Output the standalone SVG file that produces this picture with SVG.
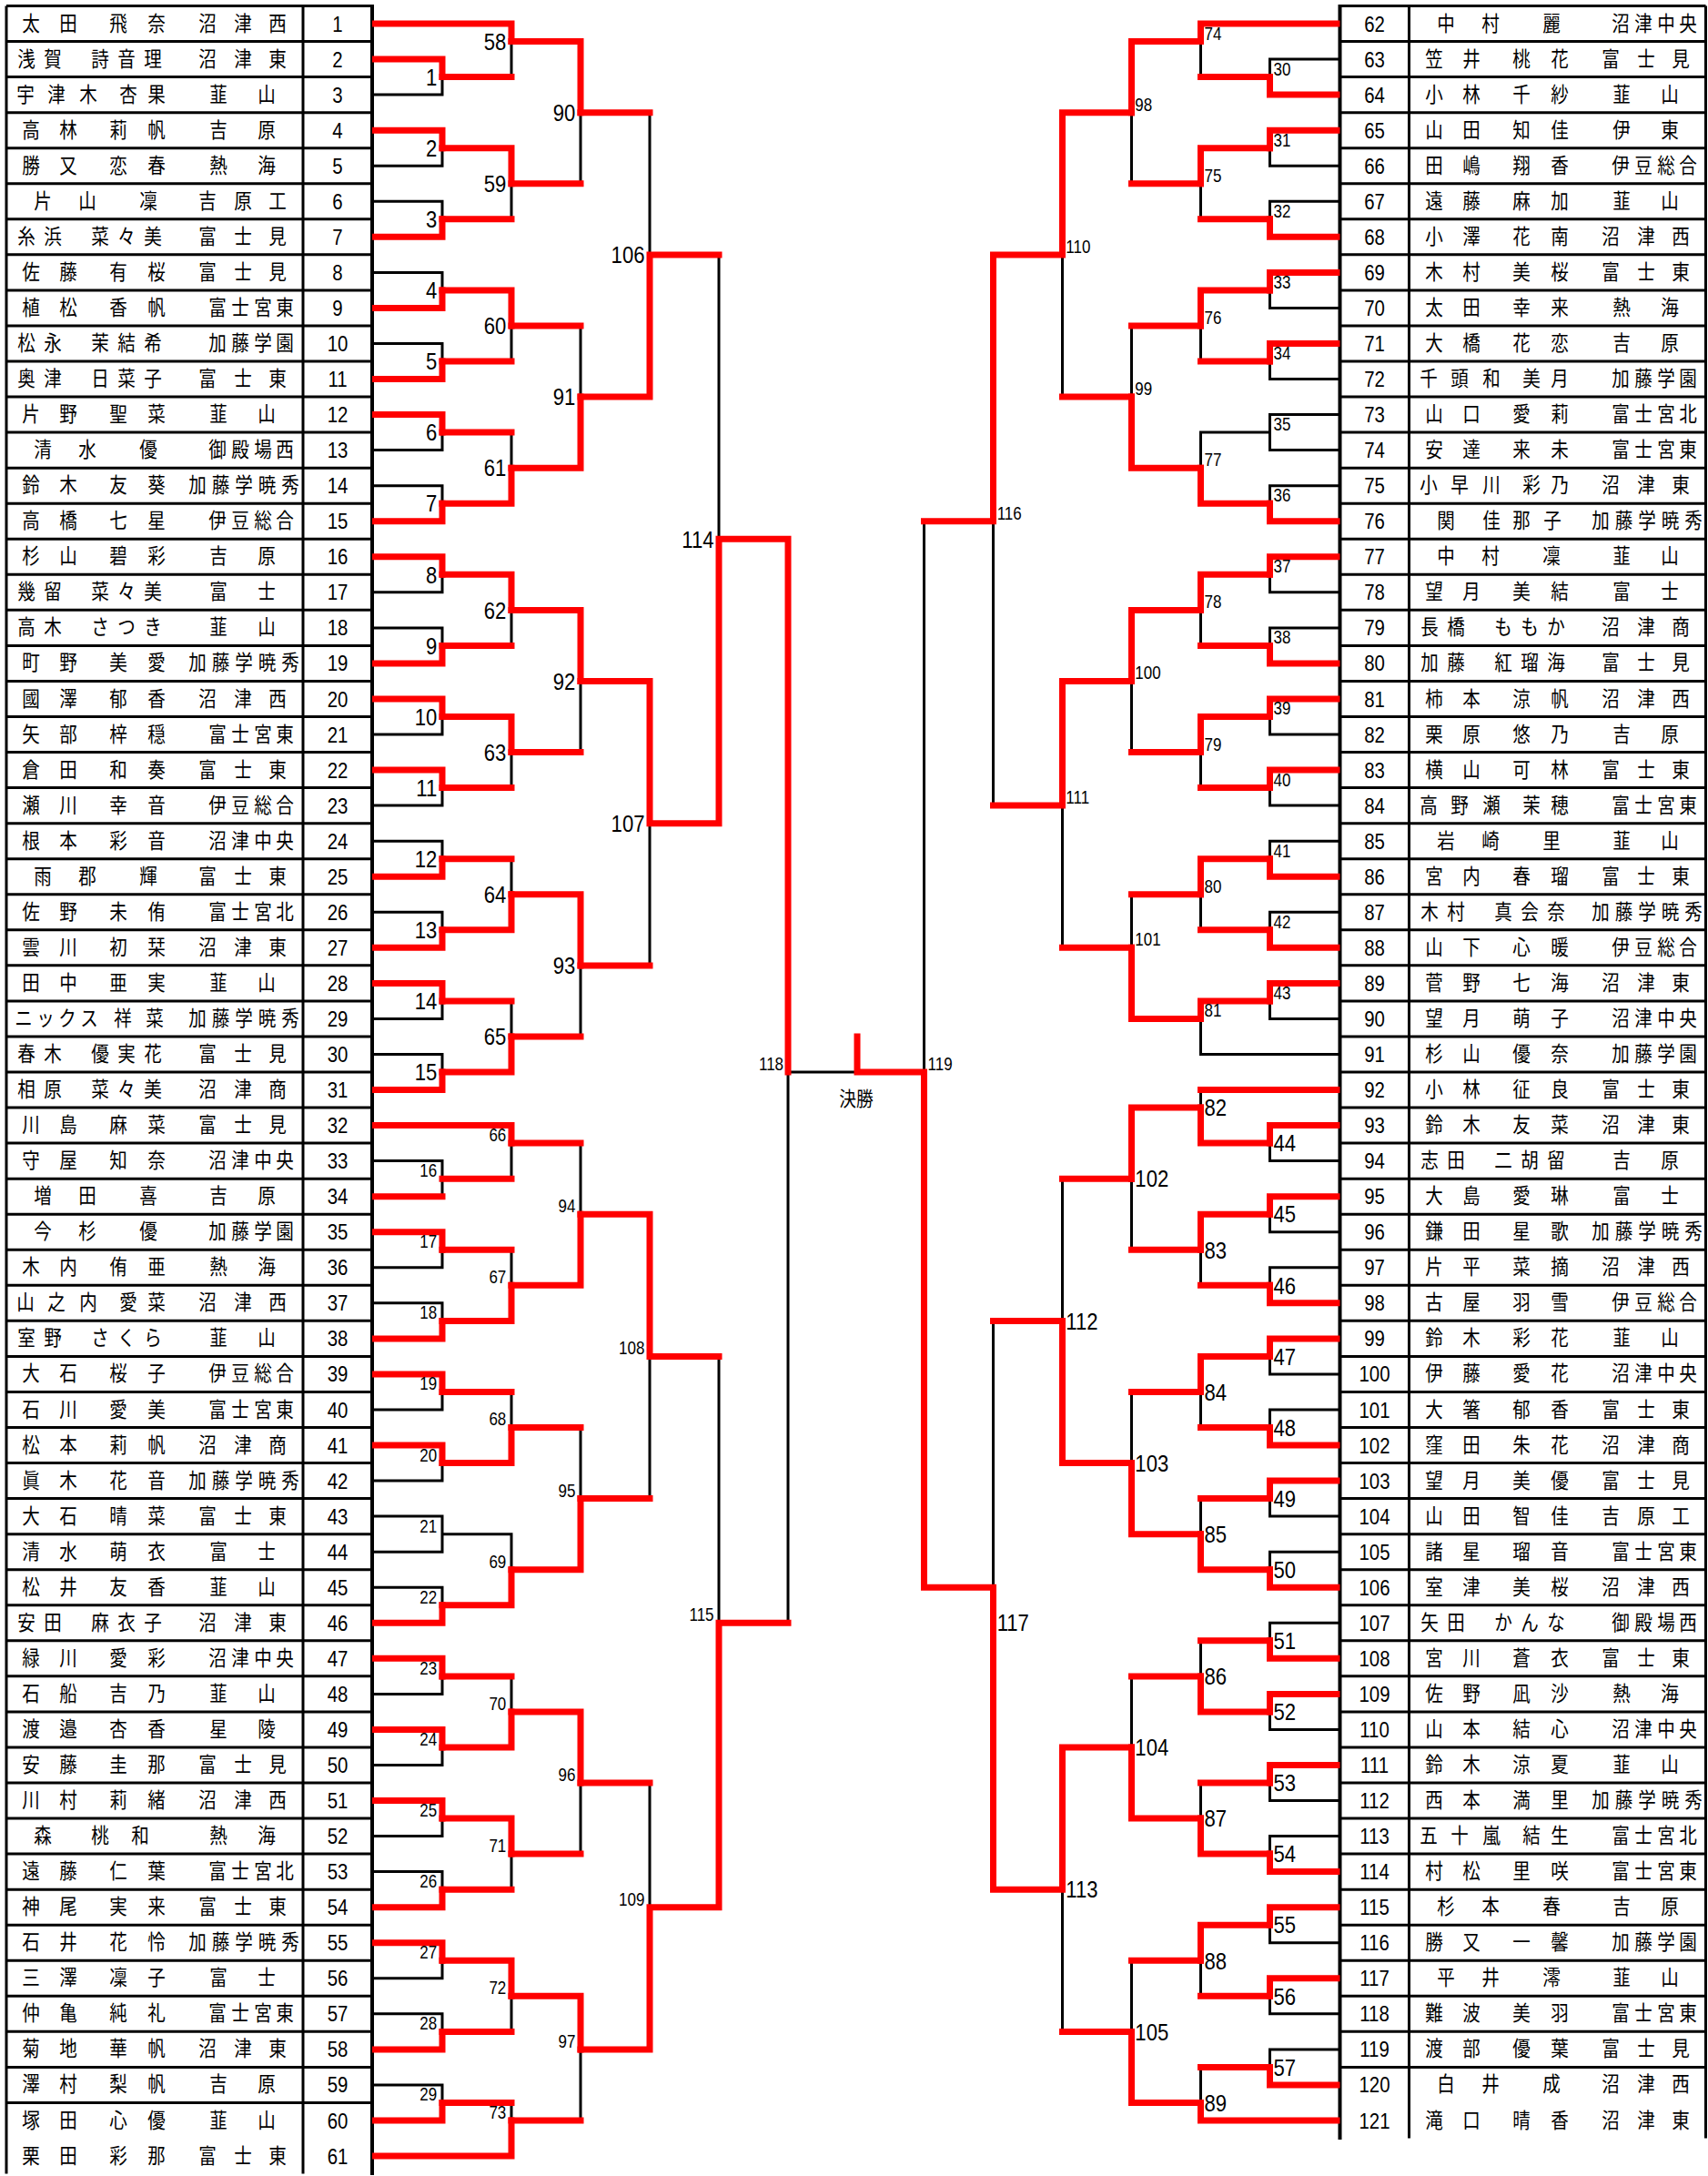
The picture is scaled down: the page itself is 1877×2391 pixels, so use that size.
<svg xmlns="http://www.w3.org/2000/svg" width="1877" height="2391" viewBox="0 0 1877 2391">
<style>
.tb{fill:none;stroke:#000;stroke-width:3}
.bk{fill:none;stroke:#000;stroke-width:3}
.rd{fill:none;stroke:#f00;stroke-width:7;stroke-linecap:square;stroke-linejoin:miter}
.n{font-family:"Noto Sans CJK JP","Noto Sans CJK SC",sans-serif;font-size:23px;text-anchor:middle;fill:#000}
.d{font-family:"Liberation Sans",Arial,sans-serif;font-size:24px;text-anchor:middle;fill:#000}
.lb{font-family:"Liberation Sans",Arial,sans-serif;font-size:26px;text-anchor:end;fill:#000}
.ls{font-family:"Liberation Sans",Arial,sans-serif;font-size:20px;text-anchor:end;fill:#000}
.rb{font-family:"Liberation Sans",Arial,sans-serif;font-size:26px;text-anchor:start;fill:#000}
.rs{font-family:"Liberation Sans",Arial,sans-serif;font-size:20px;text-anchor:start;fill:#000}
.fin{font-family:"Noto Sans CJK JP","Noto Sans CJK SC",sans-serif;font-size:22px;text-anchor:middle;fill:#000}
</style>
<rect width="1877" height="2391" fill="#fff"/>
<g id="table">
<path class="tb" d="M7 6.5h402m-402 39.05h402m-402 39.05h402m-402 39.05h402m-402 39.05h402m-402 39.05h402m-402 39.05h402m-402 39.05h402m-402 39.05h402m-402 39.05h402m-402 39.05h402m-402 39.05h402m-402 39.05h402m-402 39.05h402m-402 39.05h402m-402 39.05h402m-402 39.05h402m-402 39.05h402m-402 39.05h402m-402 39.05h402m-402 39.05h402m-402 39.05h402m-402 39.05h402m-402 39.05h402m-402 39.05h402m-402 39.05h402m-402 39.05h402m-402 39.05h402m-402 39.05h402m-402 39.05h402m-402 39.05h402m-402 39.05h402m-402 39.05h402m-402 39.05h402m-402 39.05h402m-402 39.05h402m-402 39.05h402m-402 39.05h402m-402 39.05h402m-402 39.05h402m-402 39.05h402m-402 39.05h402m-402 39.05h402m-402 39.05h402m-402 39.05h402m-402 39.05h402m-402 39.05h402m-402 39.05h402m-402 39.05h402m-402 39.05h402m-402 39.05h402m-402 39.05h402m-402 39.05h402m-402 39.05h402m-402 39.05h402m-402 39.05h402m-402 39.05h402m-402 39.05h402m-402 39.05h402m-402 39.05h402M7 6.5V2388.6M333 6.5V2388.6"/>
<path class="tb" d="M1472.5 6.5h402m-402 39.05h402m-402 39.05h402m-402 39.05h402m-402 39.05h402m-402 39.05h402m-402 39.05h402m-402 39.05h402m-402 39.05h402m-402 39.05h402m-402 39.05h402m-402 39.05h402m-402 39.05h402m-402 39.05h402m-402 39.05h402m-402 39.05h402m-402 39.05h402m-402 39.05h402m-402 39.05h402m-402 39.05h402m-402 39.05h402m-402 39.05h402m-402 39.05h402m-402 39.05h402m-402 39.05h402m-402 39.05h402m-402 39.05h402m-402 39.05h402m-402 39.05h402m-402 39.05h402m-402 39.05h402m-402 39.05h402m-402 39.05h402m-402 39.05h402m-402 39.05h402m-402 39.05h402m-402 39.05h402m-402 39.05h402m-402 39.05h402m-402 39.05h402m-402 39.05h402m-402 39.05h402m-402 39.05h402m-402 39.05h402m-402 39.05h402m-402 39.05h402m-402 39.05h402m-402 39.05h402m-402 39.05h402m-402 39.05h402m-402 39.05h402m-402 39.05h402m-402 39.05h402m-402 39.05h402m-402 39.05h402m-402 39.05h402m-402 39.05h402m-402 39.05h402m-402 39.05h402M1874.5 6.5V2349.5M1548.5 6.5V2349.5"/>
<path fill="none" stroke="#000" stroke-width="4" d="M409 5V2390M1472.5 5V2351"/>
</g>
<g id="connectors">
<path class="bk" d="M409 65.1H486V104.1H409M409 143.2H486V182.2H409M409 221.3H486V260.3H409M409 299.4H486V338.4H409M409 377.5H486V416.5H409M409 455.6H486V494.6H409M409 533.7H486V572.7H409M409 611.8H486V650.8H409M409 689.9H486V728.9H409M409 768H486V807H409M409 846.1H486V885.1H409M409 924.2H486V963.2H409M409 1002.3H486V1041.3H409M409 1080.4H486V1119.4H409M409 1158.5H486V1197.5H409M409 1275.6H486V1314.7H409M409 1353.7H486V1392.8H409M409 1431.8H486V1470.9H409M409 1509.9H486V1549H409M409 1588H486V1627.1H409M409 1666.1H486V1705.2H409M409 1744.2H486V1783.3H409M409 1822.3H486V1861.4H409M409 1900.4H486V1939.5H409M409 1978.5H486V2017.6H409M409 2056.6H486V2095.7H409M409 2134.7H486V2173.8H409M409 2212.8H486V2251.9H409M409 2290.9H486V2330H409"/>
<path class="bk" d="M409 26H562V84.6H486M486 162.7H562V240.8H486M486 318.9H562V397H486M486 475.1H562V553.2H486M486 631.3H562V709.4H486M486 787.5H562V865.6H486M486 943.7H562V1021.8H486M486 1099.9H562V1178H486M409 1236.6H562V1295.2H486M486 1373.3H562V1451.4H486M486 1529.5H562V1607.6H486M486 1685.7H562V1763.8H486M486 1841.9H562V1920H486M486 1998.1H562V2076.2H486M486 2154.3H562V2232.4H486M486 2310.5H562V2369H409"/>
<path class="bk" d="M562 45.6H638V201.8H562M562 358H638V514.2H562M562 670.4H638V826.6H562M562 982.8H638V1139H562M562 1256.1H638V1412.3H562M562 1568.5H638V1724.7H562M562 1880.9H638V2037.1H562M562 2193.3H638V2330H562"/>
<path class="bk" d="M638 123.7H714V436.1H638M638 748.5H714V1060.9H638M638 1334.2H714V1646.6H638M638 1959H714V2251.9H638M714 279.9H790V904.7H714M714 1490.4H790V2095.7H714M790 592.3H866V1783.3H790M866 1178H942"/>
<path class="bk" d="M1472.5 65.1H1395.5V104.1H1472.5M1472.5 143.2H1395.5V182.2H1472.5M1472.5 221.3H1395.5V260.3H1472.5M1472.5 299.4H1395.5V338.4H1472.5M1472.5 377.5H1395.5V416.5H1472.5M1472.5 455.6H1395.5V494.6H1472.5M1472.5 533.7H1395.5V572.7H1472.5M1472.5 611.8H1395.5V650.8H1472.5M1472.5 689.9H1395.5V728.9H1472.5M1472.5 768H1395.5V807H1472.5M1472.5 846.1H1395.5V885.1H1472.5M1472.5 924.2H1395.5V963.2H1472.5M1472.5 1002.3H1395.5V1041.3H1472.5M1472.5 1080.4H1395.5V1119.4H1472.5M1472.5 1236.6H1395.5V1275.6H1472.5M1472.5 1314.7H1395.5V1353.7H1472.5M1472.5 1392.8H1395.5V1431.8H1472.5M1472.5 1470.9H1395.5V1509.9H1472.5M1472.5 1549H1395.5V1588H1472.5M1472.5 1627.1H1395.5V1666.1H1472.5M1472.5 1705.2H1395.5V1744.2H1472.5M1472.5 1783.3H1395.5V1822.3H1472.5M1472.5 1861.4H1395.5V1900.4H1472.5M1472.5 1939.5H1395.5V1978.5H1472.5M1472.5 2017.6H1395.5V2056.6H1472.5M1472.5 2095.7H1395.5V2134.7H1472.5M1472.5 2173.8H1395.5V2212.8H1472.5M1472.5 2251.9H1395.5V2290.9H1472.5"/>
<path class="bk" d="M1472.5 26H1319.5V84.6H1395.5M1395.5 162.7H1319.5V240.8H1395.5M1395.5 318.9H1319.5V397H1395.5M1395.5 475.1H1319.5V553.2H1395.5M1395.5 631.3H1319.5V709.4H1395.5M1395.5 787.5H1319.5V865.6H1395.5M1395.5 943.7H1319.5V1021.8H1395.5M1395.5 1099.9H1319.5V1158.5H1472.5M1472.5 1197.5H1319.5V1256.1H1395.5M1395.5 1334.2H1319.5V1412.3H1395.5M1395.5 1490.4H1319.5V1568.5H1395.5M1395.5 1646.6H1319.5V1724.7H1395.5M1395.5 1802.8H1319.5V1880.9H1395.5M1395.5 1959H1319.5V2037.1H1395.5M1395.5 2115.2H1319.5V2193.3H1395.5M1395.5 2271.4H1319.5V2330H1472.5"/>
<path class="bk" d="M1319.5 45.6H1243.5V201.8H1319.5M1319.5 358H1243.5V514.2H1319.5M1319.5 670.4H1243.5V826.6H1319.5M1319.5 982.8H1243.5V1119.4H1319.5M1319.5 1217.1H1243.5V1373.3H1319.5M1319.5 1529.5H1243.5V1685.7H1319.5M1319.5 1841.9H1243.5V1998.1H1319.5M1319.5 2154.3H1243.5V2310.5H1319.5"/>
<path class="bk" d="M1243.5 123.7H1167.5V436.1H1243.5M1243.5 748.5H1167.5V1041.3H1243.5M1243.5 1295.2H1167.5V1607.6H1243.5M1243.5 1920H1167.5V2232.4H1243.5M1167.5 279.9H1091.5V885.1H1167.5M1167.5 1451.4H1091.5V2076.2H1167.5M1091.5 572.7H1015.5V1744.2H1091.5"/>
<path class="rd" d="M412.5 65.1H486V84.6M412.5 143.2H486V162.7M412.5 260.3H486V240.8M412.5 338.4H486V318.9M412.5 416.5H486V397M412.5 455.6H486V475.1M412.5 572.7H486V553.2M412.5 611.8H486V631.3M412.5 728.9H486V709.4M412.5 768H486V787.5M412.5 846.1H486V865.6M412.5 963.2H486V943.7M412.5 1041.3H486V1021.8M412.5 1080.4H486V1099.9M412.5 1197.5H486V1178M412.5 1314.7H486M412.5 1353.7H486V1373.3M412.5 1470.9H486V1451.4M412.5 1509.9H486V1529.5M412.5 1588H486V1607.6M412.5 1783.3H486V1763.8M412.5 1822.3H486V1841.9M412.5 1900.4H486V1920M412.5 1978.5H486V1998.1M412.5 2095.7H486V2076.2M412.5 2134.7H486V2154.3M412.5 2251.9H486V2232.4M412.5 2330H486V2310.5"/>
<path class="rd" d="M412.5 26H562V45.6M486 84.6H562M486 162.7H562V201.8M486 240.8H562M486 318.9H562V358M486 397H562M486 553.2H562V514.2M486 475.1H562M486 631.3H562V670.4M486 709.4H562M486 787.5H562V826.6M486 865.6H562M486 1021.8H562V982.8M486 943.7H562M486 1178H562V1139M486 1099.9H562M412.5 1236.6H562V1256.1M486 1295.2H562M486 1451.4H562V1412.3M486 1373.3H562M486 1607.6H562V1568.5M486 1529.5H562M486 1763.8H562V1724.7M486 1920H562V1880.9M486 1841.9H562M486 1998.1H562V2037.1M486 2076.2H562M486 2154.3H562V2193.3M486 2232.4H562M412.5 2369H562V2330M486 2310.5H562"/>
<path class="rd" d="M562 45.6H638V123.7M562 201.8H638M562 514.2H638V436.1M562 358H638M562 670.4H638V748.5M562 826.6H638M562 982.8H638V1060.9M562 1139H638M562 1412.3H638V1334.2M562 1256.1H638M562 1724.7H638V1646.6M562 1568.5H638M562 1880.9H638V1959M562 2037.1H638M562 2193.3H638V2251.9M562 2330H638"/>
<path class="rd" d="M638 436.1H714V279.9M638 123.7H714M638 748.5H714V904.7M638 1060.9H714M638 1334.2H714V1490.4M638 1646.6H714M638 2251.9H714V2095.7M638 1959H714M714 904.7H790V592.3M714 279.9H790M714 2095.7H790V1783.3M714 1490.4H790M790 592.3H866V1178M790 1783.3H866"/>
<path class="rd" d="M1469 104.1H1395.5V84.6M1469 143.2H1395.5V162.7M1469 260.3H1395.5V240.8M1469 299.4H1395.5V318.9M1469 377.5H1395.5V397M1469 572.7H1395.5V553.2M1469 611.8H1395.5V631.3M1469 728.9H1395.5V709.4M1469 768H1395.5V787.5M1469 846.1H1395.5V865.6M1469 963.2H1395.5V943.7M1469 1041.3H1395.5V1021.8M1469 1080.4H1395.5V1099.9M1469 1236.6H1395.5V1256.1M1469 1314.7H1395.5V1334.2M1469 1431.8H1395.5V1412.3M1469 1470.9H1395.5V1490.4M1469 1588H1395.5V1568.5M1469 1627.1H1395.5V1646.6M1469 1744.2H1395.5V1724.7M1469 1822.3H1395.5V1802.8M1469 1861.4H1395.5V1880.9M1469 1939.5H1395.5V1959M1469 2056.6H1395.5V2037.1M1469 2095.7H1395.5V2115.2M1469 2173.8H1395.5V2193.3M1469 2290.9H1395.5V2271.4"/>
<path class="rd" d="M1469 26H1319.5V45.6M1395.5 84.6H1319.5M1395.5 162.7H1319.5V201.8M1395.5 240.8H1319.5M1395.5 318.9H1319.5V358M1395.5 397H1319.5M1395.5 553.2H1319.5V514.2M1395.5 631.3H1319.5V670.4M1395.5 709.4H1319.5M1395.5 787.5H1319.5V826.6M1395.5 865.6H1319.5M1395.5 943.7H1319.5V982.8M1395.5 1021.8H1319.5M1395.5 1099.9H1319.5V1119.4M1395.5 1256.1H1319.5V1217.1M1469 1197.5H1319.5M1395.5 1334.2H1319.5V1373.3M1395.5 1412.3H1319.5M1395.5 1490.4H1319.5V1529.5M1395.5 1568.5H1319.5M1395.5 1724.7H1319.5V1685.7M1395.5 1646.6H1319.5M1395.5 1880.9H1319.5V1841.9M1395.5 1802.8H1319.5M1395.5 2037.1H1319.5V1998.1M1395.5 1959H1319.5M1395.5 2115.2H1319.5V2154.3M1395.5 2193.3H1319.5M1469 2330H1319.5V2310.5M1395.5 2271.4H1319.5"/>
<path class="rd" d="M1319.5 45.6H1243.5V123.7M1319.5 201.8H1243.5M1319.5 514.2H1243.5V436.1M1319.5 358H1243.5M1319.5 670.4H1243.5V748.5M1319.5 826.6H1243.5M1319.5 1119.4H1243.5V1041.3M1319.5 982.8H1243.5M1319.5 1217.1H1243.5V1295.2M1319.5 1373.3H1243.5M1319.5 1685.7H1243.5V1607.6M1319.5 1529.5H1243.5M1319.5 1998.1H1243.5V1920M1319.5 1841.9H1243.5M1319.5 2310.5H1243.5V2232.4M1319.5 2154.3H1243.5"/>
<path class="rd" d="M1243.5 123.7H1167.5V279.9M1243.5 436.1H1167.5M1243.5 748.5H1167.5V885.1M1243.5 1041.3H1167.5M1243.5 1607.6H1167.5V1451.4M1243.5 1295.2H1167.5M1243.5 1920H1167.5V2076.2M1243.5 2232.4H1167.5M1167.5 279.9H1091.5V572.7M1167.5 885.1H1091.5M1167.5 2076.2H1091.5V1744.2M1167.5 1451.4H1091.5M1091.5 1744.2H1015.5V1178H942V1139M1091.5 572.7H1015.5"/>
</g>
<g transform="scale(.85 1)">
<g id="labels">
<text class="lb" x="565" y="93.9">1</text><text class="lb" x="565" y="172">2</text><text class="lb" x="565" y="250.1">3</text><text class="lb" x="565" y="328.2">4</text><text class="lb" x="565" y="406.3">5</text><text class="lb" x="565" y="484.4">6</text><text class="lb" x="565" y="562.5">7</text><text class="lb" x="565" y="640.6">8</text><text class="lb" x="565" y="718.7">9</text><text class="lb" x="565" y="796.8">10</text><text class="lb" x="565" y="874.9">11</text><text class="lb" x="565" y="953">12</text><text class="lb" x="565" y="1031.1">13</text><text class="lb" x="565" y="1109.2">14</text><text class="lb" x="565" y="1187.3">15</text>
<text class="lb" x="654.5" y="54.9">58</text><text class="lb" x="654.5" y="211.1">59</text><text class="lb" x="654.5" y="367.3">60</text><text class="lb" x="654.5" y="523.5">61</text><text class="lb" x="654.5" y="679.7">62</text><text class="lb" x="654.5" y="835.9">63</text><text class="lb" x="654.5" y="992.1">64</text><text class="lb" x="654.5" y="1148.3">65</text>
<text class="lb" x="744" y="133">90</text><text class="lb" x="744" y="445.4">91</text><text class="lb" x="744" y="757.8">92</text><text class="lb" x="744" y="1070.2">93</text>
<text class="lb" x="833.5" y="289.2">106</text><text class="lb" x="833.5" y="914">107</text><text class="lb" x="923" y="601.6">114</text>
<g transform="translate(0 -2)">
<text class="ls" x="565" y="1295.2">16</text><text class="ls" x="565" y="1373.3">17</text><text class="ls" x="565" y="1451.4">18</text><text class="ls" x="565" y="1529.5">19</text><text class="ls" x="565" y="1607.6">20</text><text class="ls" x="565" y="1685.7">21</text><text class="ls" x="565" y="1763.8">22</text><text class="ls" x="565" y="1841.9">23</text><text class="ls" x="565" y="1920">24</text><text class="ls" x="565" y="1998.1">25</text><text class="ls" x="565" y="2076.2">26</text><text class="ls" x="565" y="2154.3">27</text><text class="ls" x="565" y="2232.4">28</text><text class="ls" x="565" y="2310.5">29</text>
<text class="ls" x="654.5" y="1256.1">66</text><text class="ls" x="654.5" y="1412.3">67</text><text class="ls" x="654.5" y="1568.5">68</text><text class="ls" x="654.5" y="1724.7">69</text><text class="ls" x="654.5" y="1880.9">70</text><text class="ls" x="654.5" y="2037.1">71</text><text class="ls" x="654.5" y="2193.3">72</text><text class="ls" x="654.5" y="2330">73</text>
<text class="ls" x="744" y="1334.2">94</text><text class="ls" x="744" y="1646.6">95</text><text class="ls" x="744" y="1959">96</text><text class="ls" x="744" y="2251.9">97</text>
<text class="ls" x="833.5" y="1490.4">108</text><text class="ls" x="833.5" y="2095.7">109</text><text class="ls" x="923" y="1783.3">115</text><text class="ls" x="1013" y="1178">118</text>
<text class="rs" x="1646.5" y="84.6">30</text><text class="rs" x="1646.5" y="162.7">31</text><text class="rs" x="1646.5" y="240.8">32</text><text class="rs" x="1646.5" y="318.9">33</text><text class="rs" x="1646.5" y="397">34</text><text class="rs" x="1646.5" y="475.1">35</text><text class="rs" x="1646.5" y="553.2">36</text><text class="rs" x="1646.5" y="631.3">37</text><text class="rs" x="1646.5" y="709.4">38</text><text class="rs" x="1646.5" y="787.5">39</text><text class="rs" x="1646.5" y="865.6">40</text><text class="rs" x="1646.5" y="943.7">41</text><text class="rs" x="1646.5" y="1021.8">42</text><text class="rs" x="1646.5" y="1099.9">43</text>
<text class="rs" x="1557" y="45.6">74</text><text class="rs" x="1557" y="201.8">75</text><text class="rs" x="1557" y="358">76</text><text class="rs" x="1557" y="514.2">77</text><text class="rs" x="1557" y="670.4">78</text><text class="rs" x="1557" y="826.6">79</text><text class="rs" x="1557" y="982.8">80</text><text class="rs" x="1557" y="1119.4">81</text>
<text class="rs" x="1467.5" y="123.7">98</text><text class="rs" x="1467.5" y="436.1">99</text><text class="rs" x="1467.5" y="748.5">100</text><text class="rs" x="1467.5" y="1041.3">101</text>
<text class="rs" x="1378" y="279.9">110</text><text class="rs" x="1378" y="885.1">111</text><text class="rs" x="1289" y="572.7">116</text><text class="rs" x="1199.5" y="1178">119</text>
</g>
<text class="rb" x="1646.5" y="1265.4">44</text><text class="rb" x="1646.5" y="1343.5">45</text><text class="rb" x="1646.5" y="1421.6">46</text><text class="rb" x="1646.5" y="1499.7">47</text><text class="rb" x="1646.5" y="1577.8">48</text><text class="rb" x="1646.5" y="1655.9">49</text><text class="rb" x="1646.5" y="1734">50</text><text class="rb" x="1646.5" y="1812.1">51</text><text class="rb" x="1646.5" y="1890.2">52</text><text class="rb" x="1646.5" y="1968.3">53</text><text class="rb" x="1646.5" y="2046.4">54</text><text class="rb" x="1646.5" y="2124.5">55</text><text class="rb" x="1646.5" y="2202.6">56</text><text class="rb" x="1646.5" y="2280.7">57</text>
<text class="rb" x="1557" y="1226.4">82</text><text class="rb" x="1557" y="1382.6">83</text><text class="rb" x="1557" y="1538.8">84</text><text class="rb" x="1557" y="1695">85</text><text class="rb" x="1557" y="1851.2">86</text><text class="rb" x="1557" y="2007.4">87</text><text class="rb" x="1557" y="2163.6">88</text><text class="rb" x="1557" y="2319.8">89</text>
<text class="rb" x="1467.5" y="1304.5">102</text><text class="rb" x="1467.5" y="1616.9">103</text><text class="rb" x="1467.5" y="1929.3">104</text><text class="rb" x="1467.5" y="2241.7">105</text>
<text class="rb" x="1378" y="1460.7">112</text><text class="rb" x="1378" y="2085.5">113</text><text class="rb" x="1289" y="1792.5">117</text>
<text class="fin" x="1107" y="1215.5">決勝</text>
</g>
<g id="players">
<g id="p1" transform="translate(0 33.5)"><text class="n" x="40 88.2 120 152.9 202.4">太田　飛奈</text><text class="n" x="268.2 314.1 358.8">沼津西</text><text class="d" x="436.5" y="1">1</text></g>
<g id="p2" transform="translate(0 72.6)"><text class="n" x="34.1 68.2 99 129.4 163.5 197.6">浅賀　詩音理</text><text class="n" x="268.2 314.1 358.8">沼津東</text><text class="d" x="436.5" y="1">2</text></g>
<g id="p3" transform="translate(0 111.6)"><text class="n" x="32.9 72.9 114.1 140 165.9 202.4">宇津木　杏果</text><text class="n" x="282.4 344.7">韮山</text><text class="d" x="436.5" y="1">3</text></g>
<g id="p4" transform="translate(0 150.7)"><text class="n" x="40 88.2 120 152.9 202.4">高林　莉帆</text><text class="n" x="282.4 344.7">吉原</text><text class="d" x="436.5" y="1">4</text></g>
<g id="p5" transform="translate(0 189.7)"><text class="n" x="40 88.2 120 152.9 202.4">勝又　恋春</text><text class="n" x="282.4 344.7">熱海</text><text class="d" x="436.5" y="1">5</text></g>
<g id="p6" transform="translate(0 228.8)"><text class="n" x="55.3 112.9 150 191.8">片山　凜</text><text class="n" x="268.2 314.1 358.8">吉原工</text><text class="d" x="436.5" y="1">6</text></g>
<g id="p7" transform="translate(0 267.8)"><text class="n" x="34.1 68.2 99 129.4 163.5 197.6">糸浜　菜々美</text><text class="n" x="268.2 314.1 358.8">富士見</text><text class="d" x="436.5" y="1">7</text></g>
<g id="p8" transform="translate(0 306.9)"><text class="n" x="40 88.2 120 152.9 202.4">佐藤　有桜</text><text class="n" x="268.2 314.1 358.8">富士見</text><text class="d" x="436.5" y="1">8</text></g>
<g id="p9" transform="translate(0 345.9)"><text class="n" x="40 88.2 120 152.9 202.4">植松　香帆</text><text class="n" x="281.2 310.6 340 368.2">富士宮東</text><text class="d" x="436.5" y="1">9</text></g>
<g id="p10" transform="translate(0 385)"><text class="n" x="34.1 68.2 99 129.4 163.5 197.6">松永　茉結希</text><text class="n" x="281.2 310.6 340 368.2">加藤学園</text><text class="d" x="436.5" y="1">10</text></g>
<g id="p11" transform="translate(0 424)"><text class="n" x="34.1 68.2 99 129.4 163.5 197.6">奥津　日菜子</text><text class="n" x="268.2 314.1 358.8">富士東</text><text class="d" x="436.5" y="1">11</text></g>
<g id="p12" transform="translate(0 463.1)"><text class="n" x="40 88.2 120 152.9 202.4">片野　聖菜</text><text class="n" x="282.4 344.7">韮山</text><text class="d" x="436.5" y="1">12</text></g>
<g id="p13" transform="translate(0 502.1)"><text class="n" x="55.3 112.9 150 191.8">清水　優</text><text class="n" x="281.2 310.6 340 368.2">御殿場西</text><text class="d" x="436.5" y="1">13</text></g>
<g id="p14" transform="translate(0 541.2)"><text class="n" x="40 88.2 120 152.9 202.4">鈴木　友葵</text><text class="n" x="255.3 285.3 315.3 345.3 375.3">加藤学暁秀</text><text class="d" x="436.5" y="1">14</text></g>
<g id="p15" transform="translate(0 580.2)"><text class="n" x="40 88.2 120 152.9 202.4">高橋　七星</text><text class="n" x="281.2 310.6 340 368.2">伊豆総合</text><text class="d" x="436.5" y="1">15</text></g>
<g id="p16" transform="translate(0 619.3)"><text class="n" x="40 88.2 120 152.9 202.4">杉山　碧彩</text><text class="n" x="282.4 344.7">吉原</text><text class="d" x="436.5" y="1">16</text></g>
<g id="p17" transform="translate(0 658.3)"><text class="n" x="34.1 68.2 99 129.4 163.5 197.6">幾留　菜々美</text><text class="n" x="282.4 344.7">富士</text><text class="d" x="436.5" y="1">17</text></g>
<g id="p18" transform="translate(0 697.4)"><text class="n" x="34.1 68.2 99 129.4 163.5 197.6">高木　さつき</text><text class="n" x="282.4 344.7">韮山</text><text class="d" x="436.5" y="1">18</text></g>
<g id="p19" transform="translate(0 736.4)"><text class="n" x="40 88.2 120 152.9 202.4">町野　美愛</text><text class="n" x="255.3 285.3 315.3 345.3 375.3">加藤学暁秀</text><text class="d" x="436.5" y="1">19</text></g>
<g id="p20" transform="translate(0 775.5)"><text class="n" x="40 88.2 120 152.9 202.4">國澤　郁香</text><text class="n" x="268.2 314.1 358.8">沼津西</text><text class="d" x="436.5" y="1">20</text></g>
<g id="p21" transform="translate(0 814.5)"><text class="n" x="40 88.2 120 152.9 202.4">矢部　梓穏</text><text class="n" x="281.2 310.6 340 368.2">富士宮東</text><text class="d" x="436.5" y="1">21</text></g>
<g id="p22" transform="translate(0 853.6)"><text class="n" x="40 88.2 120 152.9 202.4">倉田　和奏</text><text class="n" x="268.2 314.1 358.8">富士東</text><text class="d" x="436.5" y="1">22</text></g>
<g id="p23" transform="translate(0 892.6)"><text class="n" x="40 88.2 120 152.9 202.4">瀬川　幸音</text><text class="n" x="281.2 310.6 340 368.2">伊豆総合</text><text class="d" x="436.5" y="1">23</text></g>
<g id="p24" transform="translate(0 931.7)"><text class="n" x="40 88.2 120 152.9 202.4">根本　彩音</text><text class="n" x="281.2 310.6 340 368.2">沼津中央</text><text class="d" x="436.5" y="1">24</text></g>
<g id="p25" transform="translate(0 970.7)"><text class="n" x="55.3 112.9 150 191.8">雨郡　輝</text><text class="n" x="268.2 314.1 358.8">富士東</text><text class="d" x="436.5" y="1">25</text></g>
<g id="p26" transform="translate(0 1009.8)"><text class="n" x="40 88.2 120 152.9 202.4">佐野　未侑</text><text class="n" x="281.2 310.6 340 368.2">富士宮北</text><text class="d" x="436.5" y="1">26</text></g>
<g id="p27" transform="translate(0 1048.8)"><text class="n" x="40 88.2 120 152.9 202.4">雲川　初栞</text><text class="n" x="268.2 314.1 358.8">沼津東</text><text class="d" x="436.5" y="1">27</text></g>
<g id="p28" transform="translate(0 1087.9)"><text class="n" x="40 88.2 120 152.9 202.4">田中　亜実</text><text class="n" x="282.4 344.7">韮山</text><text class="d" x="436.5" y="1">28</text></g>
<g id="p29" transform="translate(0 1126.9)"><text class="n" x="30.6 58.8 87.1 115.3 137 158.8 200">ニックス　祥菜</text><text class="n" x="255.3 285.3 315.3 345.3 375.3">加藤学暁秀</text><text class="d" x="436.5" y="1">29</text></g>
<g id="p30" transform="translate(0 1166)"><text class="n" x="34.1 68.2 99 129.4 163.5 197.6">春木　優実花</text><text class="n" x="268.2 314.1 358.8">富士見</text><text class="d" x="436.5" y="1">30</text></g>
<g id="p31" transform="translate(0 1205)"><text class="n" x="34.1 68.2 99 129.4 163.5 197.6">相原　菜々美</text><text class="n" x="268.2 314.1 358.8">沼津商</text><text class="d" x="436.5" y="1">31</text></g>
<g id="p32" transform="translate(0 1244.1)"><text class="n" x="40 88.2 120 152.9 202.4">川島　麻菜</text><text class="n" x="268.2 314.1 358.8">富士見</text><text class="d" x="436.5" y="1">32</text></g>
<g id="p33" transform="translate(0 1283.1)"><text class="n" x="40 88.2 120 152.9 202.4">守屋　知奈</text><text class="n" x="281.2 310.6 340 368.2">沼津中央</text><text class="d" x="436.5" y="1">33</text></g>
<g id="p34" transform="translate(0 1322.2)"><text class="n" x="55.3 112.9 150 191.8">増田　喜</text><text class="n" x="282.4 344.7">吉原</text><text class="d" x="436.5" y="1">34</text></g>
<g id="p35" transform="translate(0 1361.2)"><text class="n" x="55.3 112.9 150 191.8">今杉　優</text><text class="n" x="281.2 310.6 340 368.2">加藤学園</text><text class="d" x="436.5" y="1">35</text></g>
<g id="p36" transform="translate(0 1400.3)"><text class="n" x="40 88.2 120 152.9 202.4">木内　侑亜</text><text class="n" x="282.4 344.7">熱海</text><text class="d" x="436.5" y="1">36</text></g>
<g id="p37" transform="translate(0 1439.3)"><text class="n" x="32.9 72.9 114.1 140 165.9 202.4">山之内　愛菜</text><text class="n" x="268.2 314.1 358.8">沼津西</text><text class="d" x="436.5" y="1">37</text></g>
<g id="p38" transform="translate(0 1478.4)"><text class="n" x="34.1 68.2 99 129.4 163.5 197.6">室野　さくら</text><text class="n" x="282.4 344.7">韮山</text><text class="d" x="436.5" y="1">38</text></g>
<g id="p39" transform="translate(0 1517.4)"><text class="n" x="40 88.2 120 152.9 202.4">大石　桜子</text><text class="n" x="281.2 310.6 340 368.2">伊豆総合</text><text class="d" x="436.5" y="1">39</text></g>
<g id="p40" transform="translate(0 1556.5)"><text class="n" x="40 88.2 120 152.9 202.4">石川　愛美</text><text class="n" x="281.2 310.6 340 368.2">富士宮東</text><text class="d" x="436.5" y="1">40</text></g>
<g id="p41" transform="translate(0 1595.5)"><text class="n" x="40 88.2 120 152.9 202.4">松本　莉帆</text><text class="n" x="268.2 314.1 358.8">沼津商</text><text class="d" x="436.5" y="1">41</text></g>
<g id="p42" transform="translate(0 1634.6)"><text class="n" x="40 88.2 120 152.9 202.4">眞木　花音</text><text class="n" x="255.3 285.3 315.3 345.3 375.3">加藤学暁秀</text><text class="d" x="436.5" y="1">42</text></g>
<g id="p43" transform="translate(0 1673.6)"><text class="n" x="40 88.2 120 152.9 202.4">大石　晴菜</text><text class="n" x="268.2 314.1 358.8">富士東</text><text class="d" x="436.5" y="1">43</text></g>
<g id="p44" transform="translate(0 1712.7)"><text class="n" x="40 88.2 120 152.9 202.4">清水　萌衣</text><text class="n" x="282.4 344.7">富士</text><text class="d" x="436.5" y="1">44</text></g>
<g id="p45" transform="translate(0 1751.7)"><text class="n" x="40 88.2 120 152.9 202.4">松井　友香</text><text class="n" x="282.4 344.7">韮山</text><text class="d" x="436.5" y="1">45</text></g>
<g id="p46" transform="translate(0 1790.8)"><text class="n" x="34.1 68.2 99 129.4 163.5 197.6">安田　麻衣子</text><text class="n" x="268.2 314.1 358.8">沼津東</text><text class="d" x="436.5" y="1">46</text></g>
<g id="p47" transform="translate(0 1829.8)"><text class="n" x="40 88.2 120 152.9 202.4">緑川　愛彩</text><text class="n" x="281.2 310.6 340 368.2">沼津中央</text><text class="d" x="436.5" y="1">47</text></g>
<g id="p48" transform="translate(0 1868.9)"><text class="n" x="40 88.2 120 152.9 202.4">石船　吉乃</text><text class="n" x="282.4 344.7">韮山</text><text class="d" x="436.5" y="1">48</text></g>
<g id="p49" transform="translate(0 1907.9)"><text class="n" x="40 88.2 120 152.9 202.4">渡邉　杏香</text><text class="n" x="282.4 344.7">星陵</text><text class="d" x="436.5" y="1">49</text></g>
<g id="p50" transform="translate(0 1947)"><text class="n" x="40 88.2 120 152.9 202.4">安藤　圭那</text><text class="n" x="268.2 314.1 358.8">富士見</text><text class="d" x="436.5" y="1">50</text></g>
<g id="p51" transform="translate(0 1986)"><text class="n" x="40 88.2 120 152.9 202.4">川村　莉緒</text><text class="n" x="268.2 314.1 358.8">沼津西</text><text class="d" x="436.5" y="1">51</text></g>
<g id="p52" transform="translate(0 2025.1)"><text class="n" x="55.3 92 129.4 181.2">森　桃和</text><text class="n" x="282.4 344.7">熱海</text><text class="d" x="436.5" y="1">52</text></g>
<g id="p53" transform="translate(0 2064.1)"><text class="n" x="40 88.2 120 152.9 202.4">遠藤　仁葉</text><text class="n" x="281.2 310.6 340 368.2">富士宮北</text><text class="d" x="436.5" y="1">53</text></g>
<g id="p54" transform="translate(0 2103.2)"><text class="n" x="40 88.2 120 152.9 202.4">神尾　実来</text><text class="n" x="268.2 314.1 358.8">富士東</text><text class="d" x="436.5" y="1">54</text></g>
<g id="p55" transform="translate(0 2142.2)"><text class="n" x="40 88.2 120 152.9 202.4">石井　花怜</text><text class="n" x="255.3 285.3 315.3 345.3 375.3">加藤学暁秀</text><text class="d" x="436.5" y="1">55</text></g>
<g id="p56" transform="translate(0 2181.3)"><text class="n" x="40 88.2 120 152.9 202.4">三澤　凜子</text><text class="n" x="282.4 344.7">富士</text><text class="d" x="436.5" y="1">56</text></g>
<g id="p57" transform="translate(0 2220.3)"><text class="n" x="40 88.2 120 152.9 202.4">仲亀　純礼</text><text class="n" x="281.2 310.6 340 368.2">富士宮東</text><text class="d" x="436.5" y="1">57</text></g>
<g id="p58" transform="translate(0 2259.4)"><text class="n" x="40 88.2 120 152.9 202.4">菊地　華帆</text><text class="n" x="268.2 314.1 358.8">沼津東</text><text class="d" x="436.5" y="1">58</text></g>
<g id="p59" transform="translate(0 2298.4)"><text class="n" x="40 88.2 120 152.9 202.4">澤村　梨帆</text><text class="n" x="282.4 344.7">吉原</text><text class="d" x="436.5" y="1">59</text></g>
<g id="p60" transform="translate(0 2337.5)"><text class="n" x="40 88.2 120 152.9 202.4">塚田　心優</text><text class="n" x="282.4 344.7">韮山</text><text class="d" x="436.5" y="1">60</text></g>
<g id="p61" transform="translate(0 2376.5)"><text class="n" x="40 88.2 120 152.9 202.4">栗田　彩那</text><text class="n" x="268.2 314.1 358.8">富士東</text><text class="d" x="436.5" y="1">61</text></g>
<g id="p62" transform="translate(0 33.5)"><text class="d" x="1777.1" y="1">62</text><text class="n" x="1869.4 1927 1964.1 2005.9">中村　麗</text><text class="n" x="2095.3 2124.7 2154.1 2182.3">沼津中央</text></g>
<g id="p63" transform="translate(0 72.6)"><text class="d" x="1777.1" y="1">63</text><text class="n" x="1854.1 1902.3 1934.1 1967 2016.5">笠井　桃花</text><text class="n" x="2082.3 2128.2 2172.9">富士見</text></g>
<g id="p64" transform="translate(0 111.6)"><text class="d" x="1777.1" y="1">64</text><text class="n" x="1854.1 1902.3 1934.1 1967 2016.5">小林　千紗</text><text class="n" x="2096.5 2158.8">韮山</text></g>
<g id="p65" transform="translate(0 150.7)"><text class="d" x="1777.1" y="1">65</text><text class="n" x="1854.1 1902.3 1934.1 1967 2016.5">山田　知佳</text><text class="n" x="2096.5 2158.8">伊東</text></g>
<g id="p66" transform="translate(0 189.7)"><text class="d" x="1777.1" y="1">66</text><text class="n" x="1854.1 1902.3 1934.1 1967 2016.5">田嶋　翔香</text><text class="n" x="2095.3 2124.7 2154.1 2182.3">伊豆総合</text></g>
<g id="p67" transform="translate(0 228.8)"><text class="d" x="1777.1" y="1">67</text><text class="n" x="1854.1 1902.3 1934.1 1967 2016.5">遠藤　麻加</text><text class="n" x="2096.5 2158.8">韮山</text></g>
<g id="p68" transform="translate(0 267.8)"><text class="d" x="1777.1" y="1">68</text><text class="n" x="1854.1 1902.3 1934.1 1967 2016.5">小澤　花南</text><text class="n" x="2082.3 2128.2 2172.9">沼津西</text></g>
<g id="p69" transform="translate(0 306.9)"><text class="d" x="1777.1" y="1">69</text><text class="n" x="1854.1 1902.3 1934.1 1967 2016.5">木村　美桜</text><text class="n" x="2082.3 2128.2 2172.9">富士東</text></g>
<g id="p70" transform="translate(0 345.9)"><text class="d" x="1777.1" y="1">70</text><text class="n" x="1854.1 1902.3 1934.1 1967 2016.5">太田　幸来</text><text class="n" x="2096.5 2158.8">熱海</text></g>
<g id="p71" transform="translate(0 385)"><text class="d" x="1777.1" y="1">71</text><text class="n" x="1854.1 1902.3 1934.1 1967 2016.5">大橋　花恋</text><text class="n" x="2096.5 2158.8">吉原</text></g>
<g id="p72" transform="translate(0 424)"><text class="d" x="1777.1" y="1">72</text><text class="n" x="1847 1887 1928.2 1954.1 1980 2016.5">千頭和　美月</text><text class="n" x="2095.3 2124.7 2154.1 2182.3">加藤学園</text></g>
<g id="p73" transform="translate(0 463.1)"><text class="d" x="1777.1" y="1">73</text><text class="n" x="1854.1 1902.3 1934.1 1967 2016.5">山口　愛莉</text><text class="n" x="2095.3 2124.7 2154.1 2182.3">富士宮北</text></g>
<g id="p74" transform="translate(0 502.1)"><text class="d" x="1777.1" y="1">74</text><text class="n" x="1854.1 1902.3 1934.1 1967 2016.5">安達　来未</text><text class="n" x="2095.3 2124.7 2154.1 2182.3">富士宮東</text></g>
<g id="p75" transform="translate(0 541.2)"><text class="d" x="1777.1" y="1">75</text><text class="n" x="1847 1887 1928.2 1954.1 1980 2016.5">小早川　彩乃</text><text class="n" x="2082.3 2128.2 2172.9">沼津東</text></g>
<g id="p76" transform="translate(0 580.2)"><text class="d" x="1777.1" y="1">76</text><text class="n" x="1869.4 1898 1928.2 1967 2007">関　佳那子</text><text class="n" x="2069.4 2099.4 2129.4 2159.4 2189.4">加藤学暁秀</text></g>
<g id="p77" transform="translate(0 619.3)"><text class="d" x="1777.1" y="1">77</text><text class="n" x="1869.4 1927 1964.1 2005.9">中村　凜</text><text class="n" x="2096.5 2158.8">韮山</text></g>
<g id="p78" transform="translate(0 658.3)"><text class="d" x="1777.1" y="1">78</text><text class="n" x="1854.1 1902.3 1934.1 1967 2016.5">望月　美結</text><text class="n" x="2096.5 2158.8">富士</text></g>
<g id="p79" transform="translate(0 697.4)"><text class="d" x="1777.1" y="1">79</text><text class="n" x="1848.2 1882.3 1913.1 1943.5 1977.6 2011.7">長橋　ももか</text><text class="n" x="2082.3 2128.2 2172.9">沼津商</text></g>
<g id="p80" transform="translate(0 736.4)"><text class="d" x="1777.1" y="1">80</text><text class="n" x="1848.2 1882.3 1913.1 1943.5 1977.6 2011.7">加藤　紅瑠海</text><text class="n" x="2082.3 2128.2 2172.9">富士見</text></g>
<g id="p81" transform="translate(0 775.5)"><text class="d" x="1777.1" y="1">81</text><text class="n" x="1854.1 1902.3 1934.1 1967 2016.5">柿本　涼帆</text><text class="n" x="2082.3 2128.2 2172.9">沼津西</text></g>
<g id="p82" transform="translate(0 814.5)"><text class="d" x="1777.1" y="1">82</text><text class="n" x="1854.1 1902.3 1934.1 1967 2016.5">栗原　悠乃</text><text class="n" x="2096.5 2158.8">吉原</text></g>
<g id="p83" transform="translate(0 853.6)"><text class="d" x="1777.1" y="1">83</text><text class="n" x="1854.1 1902.3 1934.1 1967 2016.5">横山　可林</text><text class="n" x="2082.3 2128.2 2172.9">富士東</text></g>
<g id="p84" transform="translate(0 892.6)"><text class="d" x="1777.1" y="1">84</text><text class="n" x="1847 1887 1928.2 1954.1 1980 2016.5">高野瀬　茉穂</text><text class="n" x="2095.3 2124.7 2154.1 2182.3">富士宮東</text></g>
<g id="p85" transform="translate(0 931.7)"><text class="d" x="1777.1" y="1">85</text><text class="n" x="1869.4 1927 1964.1 2005.9">岩崎　里</text><text class="n" x="2096.5 2158.8">韮山</text></g>
<g id="p86" transform="translate(0 970.7)"><text class="d" x="1777.1" y="1">86</text><text class="n" x="1854.1 1902.3 1934.1 1967 2016.5">宮内　春瑠</text><text class="n" x="2082.3 2128.2 2172.9">富士東</text></g>
<g id="p87" transform="translate(0 1009.8)"><text class="d" x="1777.1" y="1">87</text><text class="n" x="1848.2 1882.3 1913.1 1943.5 1977.6 2011.7">木村　真会奈</text><text class="n" x="2069.4 2099.4 2129.4 2159.4 2189.4">加藤学暁秀</text></g>
<g id="p88" transform="translate(0 1048.8)"><text class="d" x="1777.1" y="1">88</text><text class="n" x="1854.1 1902.3 1934.1 1967 2016.5">山下　心暖</text><text class="n" x="2095.3 2124.7 2154.1 2182.3">伊豆総合</text></g>
<g id="p89" transform="translate(0 1087.9)"><text class="d" x="1777.1" y="1">89</text><text class="n" x="1854.1 1902.3 1934.1 1967 2016.5">菅野　七海</text><text class="n" x="2082.3 2128.2 2172.9">沼津東</text></g>
<g id="p90" transform="translate(0 1126.9)"><text class="d" x="1777.1" y="1">90</text><text class="n" x="1854.1 1902.3 1934.1 1967 2016.5">望月　萌子</text><text class="n" x="2095.3 2124.7 2154.1 2182.3">沼津中央</text></g>
<g id="p91" transform="translate(0 1166)"><text class="d" x="1777.1" y="1">91</text><text class="n" x="1854.1 1902.3 1934.1 1967 2016.5">杉山　優奈</text><text class="n" x="2095.3 2124.7 2154.1 2182.3">加藤学園</text></g>
<g id="p92" transform="translate(0 1205)"><text class="d" x="1777.1" y="1">92</text><text class="n" x="1854.1 1902.3 1934.1 1967 2016.5">小林　征良</text><text class="n" x="2082.3 2128.2 2172.9">富士東</text></g>
<g id="p93" transform="translate(0 1244.1)"><text class="d" x="1777.1" y="1">93</text><text class="n" x="1854.1 1902.3 1934.1 1967 2016.5">鈴木　友菜</text><text class="n" x="2082.3 2128.2 2172.9">沼津東</text></g>
<g id="p94" transform="translate(0 1283.1)"><text class="d" x="1777.1" y="1">94</text><text class="n" x="1848.2 1882.3 1913.1 1943.5 1977.6 2011.7">志田　二胡留</text><text class="n" x="2096.5 2158.8">吉原</text></g>
<g id="p95" transform="translate(0 1322.2)"><text class="d" x="1777.1" y="1">95</text><text class="n" x="1854.1 1902.3 1934.1 1967 2016.5">大島　愛琳</text><text class="n" x="2096.5 2158.8">富士</text></g>
<g id="p96" transform="translate(0 1361.2)"><text class="d" x="1777.1" y="1">96</text><text class="n" x="1854.1 1902.3 1934.1 1967 2016.5">鎌田　星歌</text><text class="n" x="2069.4 2099.4 2129.4 2159.4 2189.4">加藤学暁秀</text></g>
<g id="p97" transform="translate(0 1400.3)"><text class="d" x="1777.1" y="1">97</text><text class="n" x="1854.1 1902.3 1934.1 1967 2016.5">片平　菜摘</text><text class="n" x="2082.3 2128.2 2172.9">沼津西</text></g>
<g id="p98" transform="translate(0 1439.3)"><text class="d" x="1777.1" y="1">98</text><text class="n" x="1854.1 1902.3 1934.1 1967 2016.5">古屋　羽雪</text><text class="n" x="2095.3 2124.7 2154.1 2182.3">伊豆総合</text></g>
<g id="p99" transform="translate(0 1478.4)"><text class="d" x="1777.1" y="1">99</text><text class="n" x="1854.1 1902.3 1934.1 1967 2016.5">鈴木　彩花</text><text class="n" x="2096.5 2158.8">韮山</text></g>
<g id="p100" transform="translate(0 1517.4)"><text class="d" x="1777.1" y="1">100</text><text class="n" x="1854.1 1902.3 1934.1 1967 2016.5">伊藤　愛花</text><text class="n" x="2095.3 2124.7 2154.1 2182.3">沼津中央</text></g>
<g id="p101" transform="translate(0 1556.5)"><text class="d" x="1777.1" y="1">101</text><text class="n" x="1854.1 1902.3 1934.1 1967 2016.5">大箸　郁香</text><text class="n" x="2082.3 2128.2 2172.9">富士東</text></g>
<g id="p102" transform="translate(0 1595.5)"><text class="d" x="1777.1" y="1">102</text><text class="n" x="1854.1 1902.3 1934.1 1967 2016.5">窪田　朱花</text><text class="n" x="2082.3 2128.2 2172.9">沼津商</text></g>
<g id="p103" transform="translate(0 1634.6)"><text class="d" x="1777.1" y="1">103</text><text class="n" x="1854.1 1902.3 1934.1 1967 2016.5">望月　美優</text><text class="n" x="2082.3 2128.2 2172.9">富士見</text></g>
<g id="p104" transform="translate(0 1673.6)"><text class="d" x="1777.1" y="1">104</text><text class="n" x="1854.1 1902.3 1934.1 1967 2016.5">山田　智佳</text><text class="n" x="2082.3 2128.2 2172.9">吉原工</text></g>
<g id="p105" transform="translate(0 1712.7)"><text class="d" x="1777.1" y="1">105</text><text class="n" x="1854.1 1902.3 1934.1 1967 2016.5">諸星　瑠音</text><text class="n" x="2095.3 2124.7 2154.1 2182.3">富士宮東</text></g>
<g id="p106" transform="translate(0 1751.7)"><text class="d" x="1777.1" y="1">106</text><text class="n" x="1854.1 1902.3 1934.1 1967 2016.5">室津　美桜</text><text class="n" x="2082.3 2128.2 2172.9">沼津西</text></g>
<g id="p107" transform="translate(0 1790.8)"><text class="d" x="1777.1" y="1">107</text><text class="n" x="1848.2 1882.3 1913.1 1943.5 1977.6 2011.7">矢田　かんな</text><text class="n" x="2095.3 2124.7 2154.1 2182.3">御殿場西</text></g>
<g id="p108" transform="translate(0 1829.8)"><text class="d" x="1777.1" y="1">108</text><text class="n" x="1854.1 1902.3 1934.1 1967 2016.5">宮川　蒼衣</text><text class="n" x="2082.3 2128.2 2172.9">富士東</text></g>
<g id="p109" transform="translate(0 1868.9)"><text class="d" x="1777.1" y="1">109</text><text class="n" x="1854.1 1902.3 1934.1 1967 2016.5">佐野　凪沙</text><text class="n" x="2096.5 2158.8">熱海</text></g>
<g id="p110" transform="translate(0 1907.9)"><text class="d" x="1777.1" y="1">110</text><text class="n" x="1854.1 1902.3 1934.1 1967 2016.5">山本　結心</text><text class="n" x="2095.3 2124.7 2154.1 2182.3">沼津中央</text></g>
<g id="p111" transform="translate(0 1947)"><text class="d" x="1777.1" y="1">111</text><text class="n" x="1854.1 1902.3 1934.1 1967 2016.5">鈴木　涼夏</text><text class="n" x="2096.5 2158.8">韮山</text></g>
<g id="p112" transform="translate(0 1986)"><text class="d" x="1777.1" y="1">112</text><text class="n" x="1854.1 1902.3 1934.1 1967 2016.5">西本　満里</text><text class="n" x="2069.4 2099.4 2129.4 2159.4 2189.4">加藤学暁秀</text></g>
<g id="p113" transform="translate(0 2025.1)"><text class="d" x="1777.1" y="1">113</text><text class="n" x="1847 1887 1928.2 1954.1 1980 2016.5">五十嵐　結生</text><text class="n" x="2095.3 2124.7 2154.1 2182.3">富士宮北</text></g>
<g id="p114" transform="translate(0 2064.1)"><text class="d" x="1777.1" y="1">114</text><text class="n" x="1854.1 1902.3 1934.1 1967 2016.5">村松　里咲</text><text class="n" x="2095.3 2124.7 2154.1 2182.3">富士宮東</text></g>
<g id="p115" transform="translate(0 2103.2)"><text class="d" x="1777.1" y="1">115</text><text class="n" x="1869.4 1927 1964.1 2005.9">杉本　春</text><text class="n" x="2096.5 2158.8">吉原</text></g>
<g id="p116" transform="translate(0 2142.2)"><text class="d" x="1777.1" y="1">116</text><text class="n" x="1854.1 1902.3 1934.1 1967 2016.5">勝又　一馨</text><text class="n" x="2095.3 2124.7 2154.1 2182.3">加藤学園</text></g>
<g id="p117" transform="translate(0 2181.3)"><text class="d" x="1777.1" y="1">117</text><text class="n" x="1869.4 1927 1964.1 2005.9">平井　澪</text><text class="n" x="2096.5 2158.8">韮山</text></g>
<g id="p118" transform="translate(0 2220.3)"><text class="d" x="1777.1" y="1">118</text><text class="n" x="1854.1 1902.3 1934.1 1967 2016.5">難波　美羽</text><text class="n" x="2095.3 2124.7 2154.1 2182.3">富士宮東</text></g>
<g id="p119" transform="translate(0 2259.4)"><text class="d" x="1777.1" y="1">119</text><text class="n" x="1854.1 1902.3 1934.1 1967 2016.5">渡部　優葉</text><text class="n" x="2082.3 2128.2 2172.9">富士見</text></g>
<g id="p120" transform="translate(0 2298.4)"><text class="d" x="1777.1" y="1">120</text><text class="n" x="1869.4 1927 1964.1 2005.9">白井　成</text><text class="n" x="2082.3 2128.2 2172.9">沼津西</text></g>
<g id="p121" transform="translate(0 2337.5)"><text class="d" x="1777.1" y="1">121</text><text class="n" x="1854.1 1902.3 1934.1 1967 2016.5">滝口　晴香</text><text class="n" x="2082.3 2128.2 2172.9">沼津東</text></g>
</g>
</g>
</svg>
